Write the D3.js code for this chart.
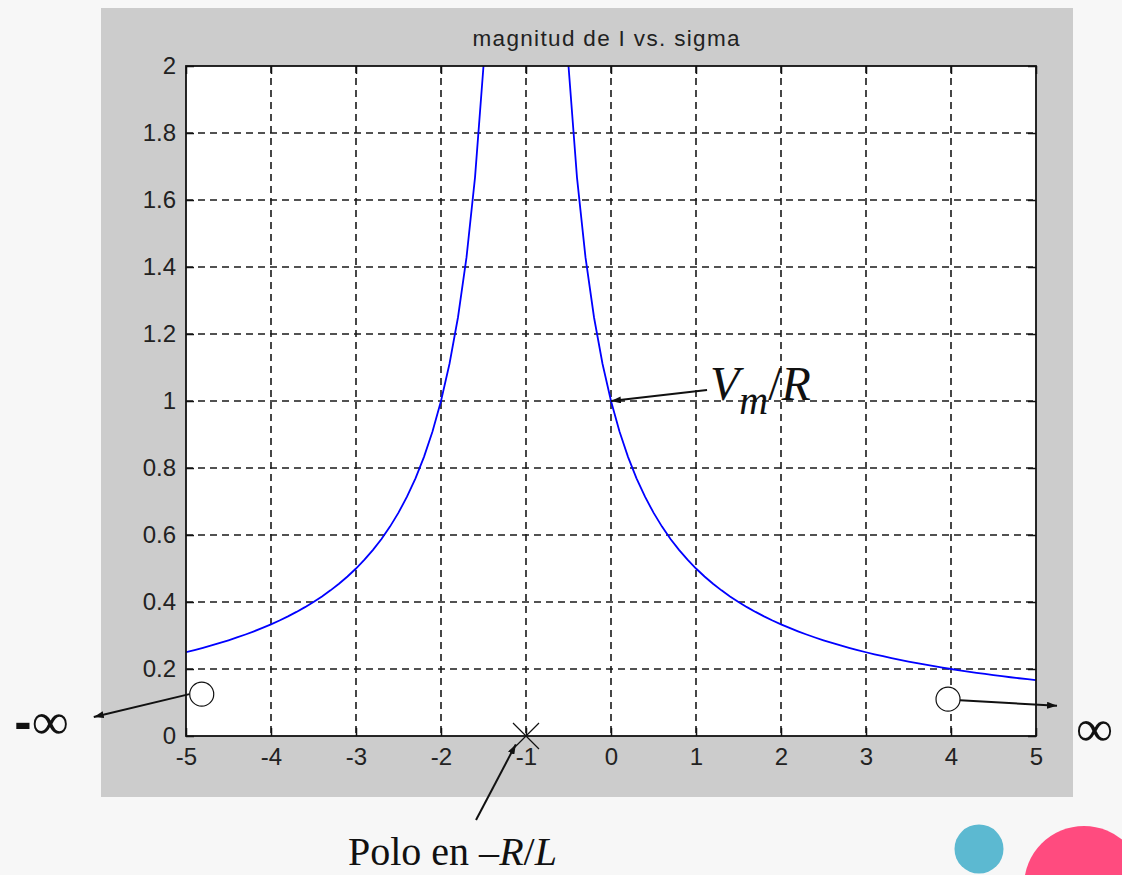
<!DOCTYPE html>
<html>
<head>
	<title>magnitud de I vs. sigma</title>
	<meta charset="utf-8">
	<style>
	body { margin: 0; background: #f7f7f7; }
	svg { display: block; }
	.tick-label { font-family: "Liberation Sans", Arial, sans-serif; font-size: 24px; fill: #222; }
	.nota { font-family: "Liberation Serif", "Times New Roman", serif; fill: #111; }
	</style>
	<script src="https://cdn.jsdelivr.net/npm/d3@7/dist/d3.min.js"></script>
	<script>

	// sigma muestreada cada 0.1
	var sigma = [
		-5.0, -4.9, -4.8, -4.7, -4.6, -4.5, -4.4, -4.3, -4.2, -4.1,
		-4.0, -3.9, -3.8, -3.7, -3.6, -3.5, -3.4, -3.3, -3.2, -3.1,
		-3.0, -2.9, -2.8, -2.7, -2.6, -2.5, -2.4, -2.3, -2.2, -2.1,
		-2.0, -1.9, -1.8, -1.7, -1.6, -1.5, -1.4, -1.3, -1.2, -1.1,
		-1.0, -0.9, -0.8, -0.7, -0.6, -0.5, -0.4, -0.3, -0.2, -0.1,
		 0.0,  0.1,  0.2,  0.3,  0.4,  0.5,  0.6,  0.7,  0.8,  0.9,
		 1.0,  1.1,  1.2,  1.3,  1.4,  1.5,  1.6,  1.7,  1.8,  1.9,
		 2.0,  2.1,  2.2,  2.3,  2.4,  2.5,  2.6,  2.7,  2.8,  2.9,
		 3.0,  3.1,  3.2,  3.3,  3.4,  3.5,  3.6,  3.7,  3.8,  3.9,
		 4.0,  4.1,  4.2,  4.3,  4.4,  4.5,  4.6,  4.7,  4.8,  4.9,
		 5.0
	];

	// |I| (null = polo)
	var magnitud = [
		0.2500, 0.2564, 0.2632, 0.2703, 0.2778, 0.2857, 0.2941, 0.3030, 0.3125, 0.3226,
		0.3333, 0.3448, 0.3571, 0.3704, 0.3846, 0.4000, 0.4167, 0.4348, 0.4545, 0.4762,
		0.5000, 0.5263, 0.5556, 0.5882, 0.6250, 0.6667, 0.7143, 0.7692, 0.8333, 0.9091,
		1.0000, 1.1111, 1.2500, 1.4286, 1.6667, 2.0000, 2.5000, 3.3333, 5.0000, 10.000,
		null,   10.000, 5.0000, 3.3333, 2.5000, 2.0000, 1.6667, 1.4286, 1.2500, 1.1111,
		1.0000, 0.9091, 0.8333, 0.7692, 0.7143, 0.6667, 0.6250, 0.5882, 0.5556, 0.5263,
		0.5000, 0.4762, 0.4545, 0.4348, 0.4167, 0.4000, 0.3846, 0.3704, 0.3571, 0.3448,
		0.3333, 0.3226, 0.3125, 0.3030, 0.2941, 0.2857, 0.2778, 0.2703, 0.2632, 0.2564,
		0.2500, 0.2439, 0.2381, 0.2326, 0.2273, 0.2222, 0.2174, 0.2128, 0.2083, 0.2041,
		0.2000, 0.1961, 0.1923, 0.1887, 0.1852, 0.1818, 0.1786, 0.1754, 0.1724, 0.1695,
		0.1667
	];

	var xTicks = [-5, -4, -3, -2, -1, 0, 1, 2, 3, 4, 5];
	var xTickLabels = ["-5", "-4", "-3", "-2", "-1", "0", "1", "2", "3", "4", "5"];
	var yTicks = [0, 0.2, 0.4, 0.6, 0.8, 1, 1.2, 1.4, 1.6, 1.8, 2];
	var yTickLabels = ["0", "0.2", "0.4", "0.6", "0.8", "1", "1.2", "1.4", "1.6", "1.8", "2"];

	var titulo = "magnitud de I vs. sigma";

	// marcas de anotacion en coordenadas de datos
	var circulos = [[-4.815, 0.125], [3.965, 0.11]];
	var polo = [-1, 0];
	var flechas = [
		[[1.13, 1.033], [0, 1]],
		[[-4.96, 0.125], [-6.085, 0.057]],
		[[4.106, 0.107], [5.247, 0.09]],
		[[-1.588, -0.251], [-1.12, -0.025]]
	];

	function draw() {
		var svg = d3.select("svg"),
			W = +svg.attr("width"), H = +svg.attr("height");

		var margin = {left: 186, top: 66, right: 1036, bottom: 736};

		var x = d3.scaleLinear().domain([-5, 5]).range([margin.left, margin.right]);
		var y = d3.scaleLinear().domain([0, 2]).range([margin.bottom, margin.top]);

		svg.append("rect").attr("width", W).attr("height", H).attr("fill", "#f7f7f7");

		// fondo gris de la figura
		svg.append("rect")
			.attr("x", 101).attr("y", 8)
			.attr("width", 972).attr("height", 789)
			.attr("fill", "#cccccc");

		svg.append("rect")
			.attr("x", x(-5)).attr("y", y(2))
			.attr("width", x(5) - x(-5)).attr("height", y(0) - y(2))
			.attr("fill", "#fff");

		svg.append("defs").append("clipPath").attr("id", "clip")
			.append("rect")
			.attr("x", x(-5)).attr("y", y(2))
			.attr("width", x(5) - x(-5)).attr("height", y(0) - y(2));

		var marker = svg.select("defs").append("marker")
			.attr("id", "flecha")
			.attr("viewBox", "0 0 10 7")
			.attr("markerUnits", "userSpaceOnUse")
			.attr("markerWidth", 10).attr("markerHeight", 7)
			.attr("refX", 10).attr("refY", 3.5)
			.attr("orient", "auto");
		marker.append("path").attr("d", "M0,0L10,3.5L0,7z").attr("fill", "#111");

		// rejilla
		var grid = svg.append("g")
			.attr("stroke", "#1a1a1a").attr("stroke-width", 1.6)
			.attr("stroke-dasharray", "7,5");
		grid.selectAll(".gx").data(xTicks.slice(1, -1)).enter().append("line")
			.attr("x1", function(d) { return x(d); }).attr("x2", function(d) { return x(d); })
			.attr("y1", y(2)).attr("y2", y(0));
		grid.selectAll(".gy").data(yTicks.slice(1, -1)).enter().append("line")
			.attr("y1", function(d) { return y(d); }).attr("y2", function(d) { return y(d); })
			.attr("x1", x(-5)).attr("x2", x(5));

		// curva
		var puntos = sigma.map(function(s, i) { return {s: s, m: magnitud[i]}; });
		var linea = d3.line()
			.defined(function(d) { return d.m != null; })
			.x(function(d) { return x(d.s); })
			.y(function(d) { return y(d.m); });

		svg.append("path")
			.datum(puntos)
			.attr("clip-path", "url(#clip)")
			.attr("fill", "none")
			.attr("stroke", "#0000ff")
			.attr("stroke-width", 1.8)
			.attr("d", linea);

		// ejes (ticks hacia dentro, estilo matlab)
		function estilo(g) {
			g.select(".domain").remove();
			g.selectAll(".tick line").attr("stroke", "#111").attr("stroke-width", 1.5);
			g.selectAll(".tick text").attr("class", "tick-label").attr("font-size", null).attr("font-family", null);
		}

		svg.append("g")
			.attr("transform", "translate(0," + y(0) + ")")
			.call(d3.axisBottom(x).tickValues(xTicks).tickSizeInner(-8).tickPadding(12)
				.tickFormat(function(d, i) { return xTickLabels[i]; }))
			.call(estilo);

		svg.append("g")
			.attr("transform", "translate(" + x(-5) + ",0)")
			.call(d3.axisLeft(y).tickValues(yTicks).tickSizeInner(-8).tickPadding(10)
				.tickFormat(function(d, i) { return yTickLabels[i]; }))
			.call(estilo);

		svg.append("g")
			.attr("transform", "translate(0," + y(2) + ")")
			.call(d3.axisTop(x).tickValues(xTicks).tickSizeInner(-8).tickFormat(""))
			.call(estilo);

		svg.append("g")
			.attr("transform", "translate(" + x(5) + ",0)")
			.call(d3.axisRight(y).tickValues(yTicks).tickSizeInner(-8).tickFormat(""))
			.call(estilo);

		svg.append("rect")
			.attr("x", x(-5)).attr("y", y(2))
			.attr("width", x(5) - x(-5)).attr("height", y(0) - y(2))
			.attr("fill", "none").attr("stroke", "#111").attr("stroke-width", 1.8);

		svg.append("text")
			.attr("class", "tick-label")
			.attr("x", (x(-5) + x(5)) / 2 - 5).attr("y", 46)
			.attr("text-anchor", "middle")
			.style("font-size", "22.5px")
			.attr("textLength", 267).attr("lengthAdjust", "spacing")
			.text(titulo);

		// anotaciones
		svg.selectAll(".circ").data(circulos).enter().append("circle")
			.attr("cx", function(d) { return x(d[0]); })
			.attr("cy", function(d) { return y(d[1]); })
			.attr("r", 12)
			.attr("fill", "#fff").attr("stroke", "#111").attr("stroke-width", 1.2);

		svg.append("path")
			.attr("d", "M" + (x(polo[0]) - 13) + "," + (y(polo[1]) - 13) + "l26,26" +
				"M" + (x(polo[0]) + 13) + "," + (y(polo[1]) - 13) + "l-26,26")
			.attr("stroke", "#111").attr("stroke-width", 1.2);

		svg.selectAll(".flecha").data(flechas).enter().append("line")
			.attr("x1", function(d) { return x(d[0][0]); })
			.attr("y1", function(d) { return y(d[0][1]); })
			.attr("x2", function(d) { return x(d[1][0]); })
			.attr("y2", function(d) { return y(d[1][1]); })
			.attr("stroke", "#111").attr("stroke-width", 2)
			.attr("marker-end", "url(#flecha)");

		var vm = svg.append("text").attr("class", "nota")
			.attr("x", x(1.165)).attr("y", y(1.003))
			.attr("font-size", "48px").attr("font-style", "italic");
		vm.append("tspan").text("V");
		vm.append("tspan").attr("dy", 14).attr("font-size", "40px").text("m");
		vm.append("tspan").attr("dy", -14).attr("font-style", "normal").text("/");
		vm.append("tspan").text("R");

		var menos = svg.append("text").attr("class", "nota")
			.attr("x", x(-7.02)).attr("y", y(-0.01))
			.attr("font-size", "52px");
		menos.append("tspan").attr("font-family", "Liberation Sans, Arial, sans-serif")
			.attr("font-weight", "bold").text("-");
		menos.append("tspan").text("\u221e");

		svg.append("text").attr("class", "nota")
			.attr("x", x(5.47)).attr("y", y(-0.03))
			.attr("font-size", "52px")
			.text("\u221e");

		var pl = svg.append("text").attr("class", "nota")
			.attr("x", x(-3.094)).attr("y", y(-0.385))
			.attr("font-size", "40px");
		pl.append("tspan").text("Polo en \u2013");
		pl.append("tspan").attr("font-style", "italic").text("R");
		pl.append("tspan").text("/");
		pl.append("tspan").attr("font-style", "italic").text("L");

		// circulos decorativos
		svg.append("circle").attr("cx", 979).attr("cy", 849).attr("r", 24.5).attr("fill", "#5cb9d1");
		svg.append("circle").attr("cx", 1084).attr("cy", 886).attr("r", 60).attr("fill", "#ff4b7f");
	}
	</script>
</head>
<body onload="draw()">
	<svg width="1122" height="875"></svg>
</body>
</html>
